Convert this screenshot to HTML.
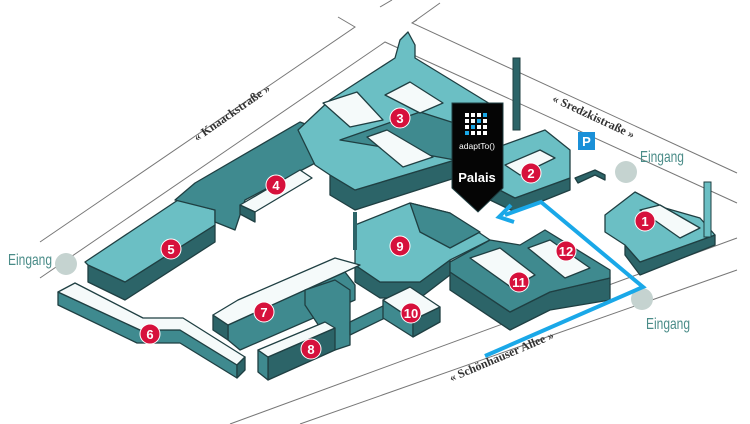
<!DOCTYPE html>
<html><head><meta charset="utf-8"><style>
html,body{margin:0;padding:0;background:#fff;}
svg{display:block;}
.l{fill:#6bbfc4;stroke:#1f3f42;stroke-width:1.3;stroke-linejoin:round}
.m{fill:#3f8a8f;stroke:#1f3f42;stroke-width:1.3;stroke-linejoin:round}
.d{fill:#2c6468;stroke:#1f3f42;stroke-width:1.3;stroke-linejoin:round}
.w{fill:#f5fafa;stroke:#1f3f42;stroke-width:1.3;stroke-linejoin:round}
.st{stroke:#777;stroke-width:1;fill:none}
.num{font-family:"Liberation Sans",sans-serif;font-weight:bold;font-size:13px;fill:#fff;text-anchor:middle}
.ein{font-family:"Liberation Sans",sans-serif;font-size:16px;fill:#4a8c88}
.str{font-family:"Liberation Serif",serif;font-weight:bold;font-size:12px;fill:#333}
</style></head><body>
<svg width="750" height="424" viewBox="0 0 750 424" xmlns="http://www.w3.org/2000/svg">
<!-- streets -->
<polyline class="st" points="40,242 355,27 338,17"/>
<polyline class="st" points="40,278 385,42 737,203"/>
<polyline class="st" points="417,20 412,23 737,173"/>
<line class="st" x1="412" y1="23" x2="440" y2="3"/>
<line class="st" x1="380" y1="7" x2="392" y2="0"/>
<line class="st" x1="737" y1="238" x2="230" y2="424"/>
<line class="st" x1="737" y1="270" x2="300" y2="424"/>
<!-- Eingang circles -->
<circle cx="626" cy="172" r="11" fill="#c5d3d0"/>
<circle cx="66" cy="264" r="11" fill="#c5d3d0"/>
<circle cx="642" cy="299" r="11" fill="#c5d3d0"/>
<!-- building 6 -->
<polygon class="m" points="58,292 140,330 180,330 237,365 237,378 180,343 137,343 58,305"/>
<polygon class="w" points="58,292 75,283 143,318 183,318 245,357 237,365 180,330 140,330"/>
<polygon class="d" points="237,365 245,357 245,370 237,378"/>
<!-- building 5 -->
<polygon class="d" points="88,265 125,282 215,225 215,242 125,300 88,282"/>
<polygon class="l" points="85,262 100,252 178,200 215,210 215,225 125,282 88,265"/>
<!-- building 4 wing -->
<polygon class="m" points="175,200 195,183 300,122 335,135 340,150 245,200 235,230 215,222 215,210"/>
<polygon class="w" points="240,205 300,170 312,178 255,212"/>
<polygon class="d" points="240,205 255,212 255,222 240,214"/>
<!-- building 3 -->
<polygon class="d" points="330,175 355,190 455,160 455,178 355,210 330,195"/>
<polygon class="l" points="298,130 330,100 395,58 400,40 408,32 415,45 415,58 500,110 500,140 455,160 355,190 330,175 315,165"/>
<polygon class="m" points="340,140 420,112 470,128 455,160 400,150"/>
<polygon class="w" points="323,103 357,92 383,120 350,127"/>
<polygon class="w" points="385,95 410,82 443,103 420,113"/>
<polygon class="w" points="367,137 387,130 433,157 403,167"/>
<rect x="513" y="58" width="7" height="72" fill="#2c6468" stroke="#1f3f42"/>
<!-- building 2 -->
<polygon class="d" points="490,185 515,198 570,178 570,190 515,212 490,200"/>
<polygon class="l" points="490,150 545,130 570,150 570,178 515,198 490,185"/>
<polygon class="w" points="505,165 540,150 555,158 520,175"/>
<polygon class="d" points="575,178 595,170 605,175 605,180 595,175 578,183"/>
<!-- building 1 -->
<polygon class="d" points="625,255 640,275 715,245 715,235 640,262 625,245"/>
<polygon class="l" points="605,215 635,192 665,208 700,218 715,235 640,262 625,245 605,232"/>
<polygon class="w" points="640,210 660,205 700,228 680,238"/>
<rect x="704" y="182" width="7" height="55" fill="#6bbfc4" stroke="#1f3f42"/>
<!-- building 9 -->
<polygon class="d" points="355,265 380,282 420,282 450,260 450,275 420,298 380,298 355,282"/>
<polygon class="l" points="355,225 410,203 450,213 490,240 450,260 420,282 380,282 355,265"/>
<polygon class="m" points="410,203 450,213 480,232 450,248 420,232"/>
<line x1="355" y1="212" x2="355" y2="250" stroke="#2c6468" stroke-width="4"/>
<!-- building 11/12 -->
<polygon class="d" points="450,290 510,330 550,310 610,300 610,278 550,292 510,312 450,272"/>
<polygon class="m" points="450,262 490,240 520,245 545,230 610,270 610,278 550,292 510,312 450,272"/>
<polygon class="w" points="470,258 500,248 535,275 512,288"/>
<polygon class="w" points="528,248 550,240 590,268 565,278"/>
<!-- building 7 -->
<polygon class="m" points="228,325 345,272 355,285 355,300 240,350 228,340"/>
<polygon class="d" points="213,315 228,325 228,340 213,330"/>
<polygon class="w" points="213,315 238,300 335,258 360,265 345,272 228,325"/>
<polygon class="m" points="305,290 335,280 350,290 350,345 335,350 305,305"/>
<!-- corridor + 10 -->
<polygon class="m" points="350,322 385,305 385,318 350,335"/>
<polygon class="m" points="383,300 413,320 413,337 383,318"/>
<polygon class="d" points="413,320 440,307 440,322 413,337"/>
<polygon class="w" points="383,300 410,287 440,307 413,320"/>
<!-- building 8 -->
<polygon class="d" points="268,357 335,328 335,350 268,380"/>
<polygon class="m" points="258,350 268,357 268,380 258,372"/>
<polygon class="w" points="258,350 325,322 335,328 268,357"/>
<!-- route -->
<polyline points="485,356 643,287 541,202 505,215" fill="none" stroke="#1aa8e8" stroke-width="4" stroke-linejoin="miter"/>
<polyline points="511,205 499,217 514,222" fill="none" stroke="#1aa8e8" stroke-width="4"/>
<!-- Palais marker -->
<polygon points="452,103 503,103 503,188 478,212 452,188" fill="#050505" stroke="#1f3f42"/>
<g fill="#fff">
<rect x="465" y="113" width="4" height="4"/><rect x="471" y="113" width="4" height="4"/><rect x="477" y="113" width="4" height="4"/><rect x="483" y="113" width="4" height="4" fill="#1aa8e8"/>
<rect x="465" y="119" width="4" height="4"/><rect x="471" y="119" width="4" height="4"/><rect x="477" y="119" width="4" height="4" fill="#1aa8e8"/><rect x="483" y="119" width="4" height="4"/>
<rect x="465" y="125" width="4" height="4"/><rect x="471" y="125" width="4" height="4" fill="#1aa8e8"/><rect x="477" y="125" width="4" height="4"/><rect x="483" y="125" width="4" height="4"/>
<rect x="465" y="131" width="4" height="4" fill="#1aa8e8"/><rect x="471" y="131" width="4" height="4"/><rect x="477" y="131" width="4" height="4"/><rect x="483" y="131" width="4" height="4"/>
</g>
<text x="477" y="149" font-family="Liberation Sans,sans-serif" font-size="8.5" fill="#fff" text-anchor="middle">adaptTo()</text>
<text x="477" y="182" font-family="Liberation Sans,sans-serif" font-size="13" font-weight="bold" fill="#fff" text-anchor="middle">Palais</text>
<!-- P -->
<rect x="578" y="132" width="17" height="18" fill="#1a90d8"/>
<text x="586.5" y="146" font-family="Liberation Sans,sans-serif" font-size="13" font-weight="bold" fill="#fff" text-anchor="middle">P</text>
<!-- numbers -->
<g fill="#d6113c" stroke="#fff" stroke-width="1">
<circle cx="645" cy="221" r="10"/><circle cx="531" cy="173" r="10"/><circle cx="400" cy="118" r="10"/>
<circle cx="276" cy="185" r="10"/><circle cx="171" cy="249" r="10"/><circle cx="150" cy="334" r="10"/>
<circle cx="264" cy="312" r="10"/><circle cx="311" cy="349" r="10"/><circle cx="400" cy="246" r="10"/>
<circle cx="411" cy="313" r="10"/><circle cx="519" cy="282" r="10"/><circle cx="566" cy="251" r="10"/>
</g>
<text class="num" x="645" y="226">1</text><text class="num" x="531" y="178">2</text><text class="num" x="400" y="123">3</text>
<text class="num" x="276" y="190">4</text><text class="num" x="171" y="254">5</text><text class="num" x="150" y="339">6</text>
<text class="num" x="264" y="317">7</text><text class="num" x="311" y="354">8</text><text class="num" x="400" y="251">9</text>
<text class="num" x="411" y="318" font-size="12">10</text><text class="num" x="519" y="287" font-size="12">11</text><text class="num" x="566" y="256" font-size="12">12</text>
<!-- Eingang -->
<text class="ein" x="640" y="162" transform="translate(640 0) scale(0.75 1) translate(-640 0)">Eingang</text>
<text class="ein" x="8" y="265" transform="translate(8 0) scale(0.75 1) translate(-8 0)">Eingang</text>
<text class="ein" x="646" y="329" transform="translate(646 0) scale(0.75 1) translate(-646 0)">Eingang</text>
<!-- street names -->
<text class="str" text-anchor="middle" transform="translate(234 116) rotate(-35)">« Knaackstraße »</text>
<text class="str" text-anchor="middle" transform="translate(592 120) rotate(25)">« Sredzkistraße »</text>
<text class="str" text-anchor="middle" transform="translate(503 360) rotate(-23)">« Schönhauser Allee »</text>
</svg>
</body></html>
